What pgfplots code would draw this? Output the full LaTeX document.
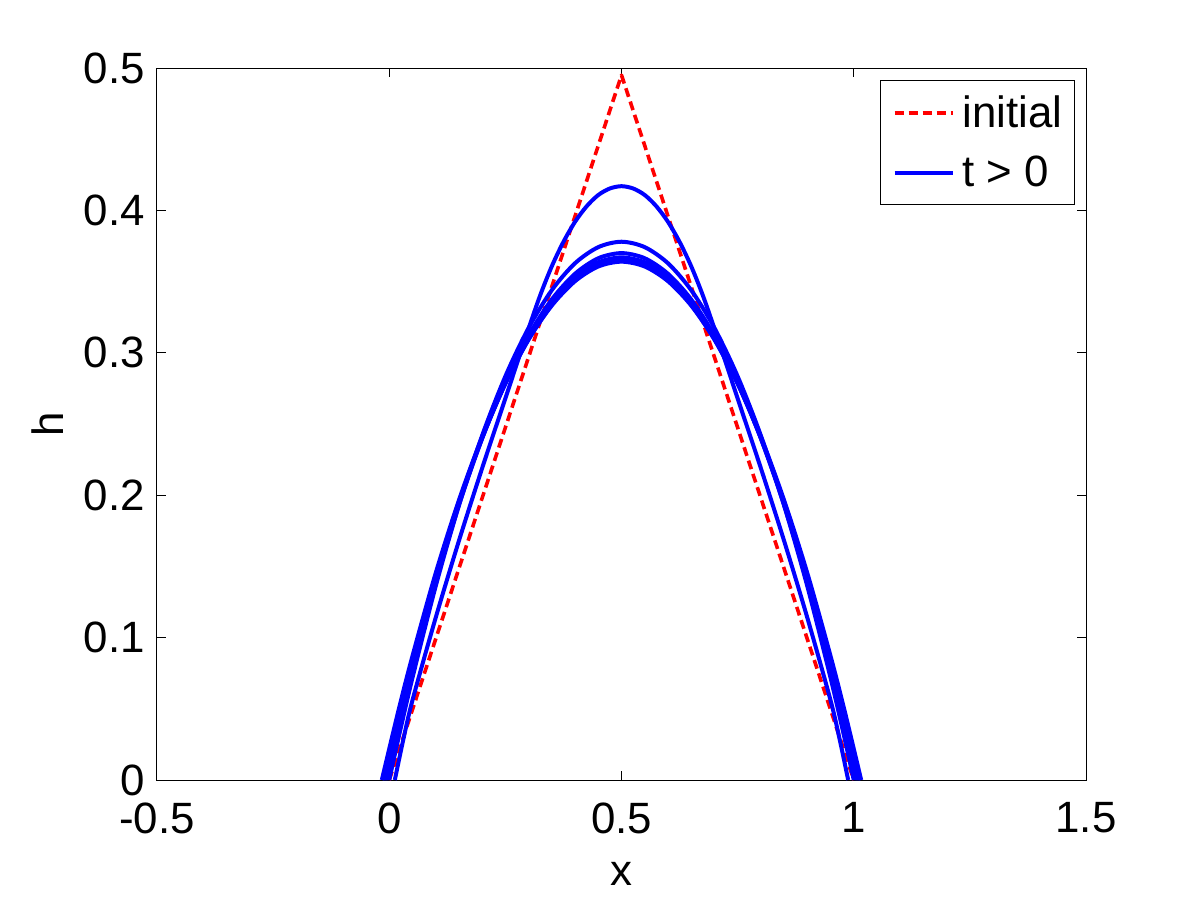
\documentclass[border=0pt]{standalone}
\usepackage{fontspec}
\setmainfont{Liberation Sans}
\usepackage{pgfplots}
\pgfplotsset{compat=1.18}
\newcommand{\bigf}{\fontsize{22}{26}\selectfont}
\begin{document}
\begin{tikzpicture}
\begin{axis}[
  scale only axis,
  width=464.5bp, height=356bp,
  xmin=-0.5, xmax=1.5, ymin=0, ymax=0.5,
  xtick={-0.5,0,0.5,1,1.5},
  xticklabels={-0.5,0,0.5,1,1.5},
  ytick={0,0.1,0.2,0.3,0.4,0.5},
  yticklabels={0,0.1,0.2,0.3,0.4,0.5},
  tick align=inside,
  major tick length=4.5bp,
  axis line style={line width=0.5bp},
  every tick/.style={black, line width=0.5bp},
  ticklabel style={font=\bigf},
  xticklabel style={inner sep=0pt, yshift=-11bp},
  yticklabel style={inner sep=0pt, xshift=-6bp},
  label style={font=\bigf},
  xlabel={x}, ylabel={h},
  xlabel style={at={(axis description cs:0.5,-0.1475)}, anchor=base},
  ylabel style={at={(axis description cs:-0.101,0.5)}, anchor=base},
  legend style={at={(rel axis cs:1,1)}, anchor=north east, xshift=-5.5bp, yshift=-6bp,
    font=\bigf, draw=black, line width=0.5bp, inner xsep=6bp, inner ysep=7.5bp,
    row sep=13bp, nodes={inner sep=0pt}},
  legend cell align=left,
  legend image code/.code={\draw[#1] (0bp,0bp) -- (29bp,0bp);},
  legend style={/tikz/every odd column/.append style={column sep=4bp}},
]
\addplot[red, line width=1.8bp, dash pattern=on 4.5bp off 2.5bp, line join=round]
  coordinates {(0,0) (0.5,0.495) (1,0)};
\addlegendentry{initial}
\addplot[blue, line width=2bp, smooth] coordinates {
 (0.012,0) (0.03,0.028) (0.05,0.056) (0.1,0.114) (0.15,0.168) (0.2,0.219) (0.25,0.268)
 (0.3,0.317) (0.325,0.3404) (0.35,0.3608) (0.375,0.3779) (0.4,0.392) (0.425,0.4029) (0.45,0.4108)
 (0.475,0.4154) (0.5,0.417)
 (0.525,0.4154) (0.55,0.4108) (0.575,0.4029) (0.6,0.392) (0.625,0.3779) (0.65,0.3608) (0.675,0.3404)
 (0.7,0.317) (0.75,0.268) (0.8,0.219) (0.85,0.168) (0.9,0.114) (0.95,0.056) (0.97,0.028) (0.988,0)};
\addlegendentry{t > 0}
\addplot[blue, line width=2bp, smooth, forget plot] coordinates {
 (0,0) (0.02,0.0296) (0.05,0.0718) (0.1,0.1361) (0.15,0.1928) (0.2,0.2419) (0.25,0.2835)
 (0.3,0.3175) (0.35,0.3440) (0.4,0.3629) (0.45,0.3742) (0.5,0.378) (0.55,0.3742) (0.6,0.3629)
 (0.65,0.3440) (0.7,0.3175) (0.75,0.2835) (0.8,0.2419) (0.85,0.1928) (0.9,0.1361) (0.95,0.0718)
 (0.98,0.0296) (1,0)};
\addplot[blue, line width=2bp, smooth, forget plot] coordinates {
 (-0.006,0) (0.02,0.0370) (0.05,0.0774) (0.1,0.1388) (0.15,0.1930) (0.2,0.2399) (0.25,0.2797)
 (0.3,0.3122) (0.35,0.3375) (0.4,0.3555) (0.45,0.3664) (0.5,0.370) (0.55,0.3664) (0.6,0.3555)
 (0.65,0.3375) (0.7,0.3122) (0.75,0.2797) (0.8,0.2399) (0.85,0.1930) (0.9,0.1388) (0.95,0.0774)
 (0.98,0.0370) (1.006,0)};
\addplot[blue, line width=2bp, smooth, forget plot] coordinates {
 (-0.01,0) (0.02,0.0419) (0.05,0.0813) (0.1,0.1413) (0.15,0.1941) (0.2,0.2400) (0.25,0.2788)
 (0.3,0.3106) (0.35,0.3353) (0.4,0.3529) (0.45,0.3635) (0.5,0.367) (0.55,0.3635) (0.6,0.3529)
 (0.65,0.3353) (0.7,0.3106) (0.75,0.2788) (0.8,0.2400) (0.85,0.1941) (0.9,0.1413) (0.95,0.0813)
 (0.98,0.0419) (1.01,0)};
\addplot[blue, line width=2bp, smooth, forget plot] coordinates {
 (-0.013,0) (0.02,0.0454) (0.05,0.0841) (0.1,0.1431) (0.15,0.1951) (0.2,0.2402) (0.25,0.2783)
 (0.3,0.3095) (0.35,0.3338) (0.4,0.3511) (0.45,0.3615) (0.5,0.365) (0.55,0.3615) (0.6,0.3511)
 (0.65,0.3338) (0.7,0.3095) (0.75,0.2783) (0.8,0.2402) (0.85,0.1951) (0.9,0.1431) (0.95,0.0841)
 (0.98,0.0454) (1.013,0)};
\addplot[blue, line width=2bp, smooth, forget plot] coordinates {
 (-0.016,0) (0.02,0.0490) (0.05,0.0871) (0.1,0.1453) (0.15,0.1965) (0.2,0.2410) (0.25,0.2786)
 (0.3,0.3093) (0.35,0.3332) (0.4,0.3503) (0.45,0.3606) (0.5,0.364) (0.55,0.3606) (0.6,0.3503)
 (0.65,0.3332) (0.7,0.3093) (0.75,0.2786) (0.8,0.2410) (0.85,0.1965) (0.9,0.1453) (0.95,0.0871)
 (0.98,0.0490) (1.016,0)};
\end{axis}
\path (current axis.south west) ++(-78.5bp,-60.5bp) rectangle ([xshift=57bp,yshift=34bp]current axis.north east);
\end{tikzpicture}
\end{document}
